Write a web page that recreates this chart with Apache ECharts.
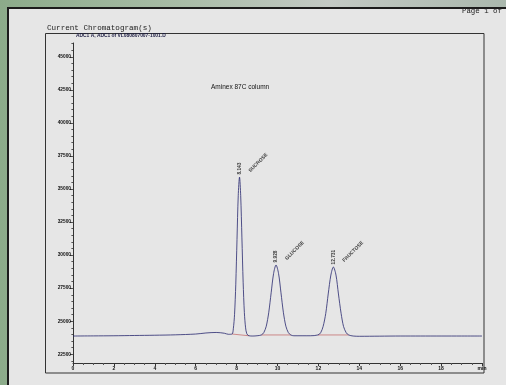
<!DOCTYPE html>
<html>
<head>
<meta charset="utf-8">
<script src="https://cdn.jsdelivr.net/npm/echarts@6/dist/echarts.min.js"></script>
<style>
html,body{margin:0;padding:0;}
body{width:506px;height:385px;overflow:hidden;
background:linear-gradient(90deg,#8cab8a 0%,#a8bca6 35%,#c3c9c4 65%,#aab8ad 100%);}
#c{width:506px;height:385px;}
</style>
</head>
<body>
<div id="c"></div>
<script>
// chromatogram signal: time (min) and detector response
const times = [0, 1, 2, 3, 4, 5, 6, 6.5, 7.0, 7.4, 7.6,
  7.78, 7.84, 7.90, 7.96, 8.02, 8.08, 8.143, 8.20, 8.26, 8.32, 8.38, 8.44, 8.50, 8.60, 8.8, 9.0,
  9.21, 9.33, 9.45, 9.57, 9.69, 9.81, 9.928, 10.05, 10.17, 10.29, 10.41, 10.53, 10.65, 10.8, 11.2, 11.6,
  11.98, 12.11, 12.23, 12.36, 12.48, 12.61, 12.731, 12.86, 12.98, 13.11, 13.23, 13.36, 13.48, 13.7,
  14, 15, 16, 17, 18, 19, 20];
const signal = [23880, 23890, 23900, 23920, 23940, 23970, 24030, 24110, 24150, 24090, 24010,
  24030, 24430, 25520, 27800, 31180, 34490, 35900, 34500, 31300, 27950, 25650, 24500, 24050, 23900, 23880, 23900,
  23960, 24140, 24620, 25640, 27150, 28620, 29250, 28620, 27150, 25640, 24620, 24140, 23960, 23900, 23900, 23900,
  23960, 24130, 24600, 25590, 27060, 28490, 29100, 28490, 27060, 25590, 24600, 24130, 23960, 23880,
  23860, 23870, 23880, 23880, 23880, 23880, 23880];
// integration baselines (start/end of each peak)
const baseStart = [[7.78, 24030], [9.21, 23960], [11.98, 23960]];
const baseEnd = [[8.60, 23900], [10.65, 23960], [13.48, 23960]];
// peaks
const peakNames = ['SUCROSE', 'GLUCOSE', 'FRUCTOSE'];
const peakTimes = [8.143, 9.928, 12.731];
const peakHeights = [35900, 29250, 29100];
const peakRT = ['8.143', '9.928', '12.731'];
// axis ticks
const yTicks = [22500, 25000, 27500, 30000, 32500, 35000, 37500, 40000, 42500, 45000];
const xMin = 0, xMax = 20, xStep = 2;
const yMin = 21840, yMax = 46040;

const yMinor = [];
for (let v = 22000; v <= 46000; v += 500) yMinor.push(v);

const sig = times.map((t, i) => [t, signal[i]]);
const red = [];
baseStart.forEach((s, i) => { red.push(s, baseEnd[i], [baseEnd[i][0], '-']); });

const chart = echarts.init(document.getElementById('c'), null, {renderer: 'canvas'});
const labFont = 'Arial, "Liberation Sans", sans-serif';
chart.setOption({
  animation: false,
  backgroundColor: 'transparent',
  grid: {left: 73, right: 24, top: 43, bottom: 22},
  xAxis: {
    type: 'value', min: xMin, max: xMax, interval: xStep,
    axisLine: {lineStyle: {color: '#333', width: 1}},
    axisTick: {length: 3, lineStyle: {color: '#333'}},
    minorTick: {show: true, splitNumber: 4, length: 2, lineStyle: {color: '#555'}},
    splitLine: {show: false},
    axisLabel: {fontSize: 5, fontWeight: 'bold', color: '#111', margin: 3, fontFamily: labFont,
      formatter: v => v === xMax ? 'min' : String(v)}
  },
  yAxis: [{
    type: 'value', min: yMin, max: yMax,
    axisLine: {show: true, lineStyle: {color: '#333', width: 1}},
    axisTick: {show: true, length: 3, customValues: yTicks, lineStyle: {color: '#333'}},
    splitLine: {show: false},
    axisLabel: {fontSize: 4.8, fontWeight: 'bold', color: '#111', margin: 2, fontFamily: labFont,
      customValues: yTicks, formatter: v => String(v)}
  }, {
    type: 'value', min: yMin, max: yMax, position: 'left',
    axisLine: {show: false},
    axisTick: {show: true, length: 1.6, customValues: yMinor, lineStyle: {color: '#555'}},
    axisLabel: {show: false},
    splitLine: {show: false}
  }],
  graphic: [
    {type: 'rect', z: -100, shape: {x: 8, y: 8, width: 520, height: 400},
      style: {fill: '#e6e6e6', stroke: '#1c1c1c', lineWidth: 2}},
    {type: 'rect', z: -90, shape: {x: 45.5, y: 33.5, width: 438.5, height: 339.5},
      style: {fill: 'none', stroke: '#333', lineWidth: 1}},
    {type: 'text', x: 462, y: 8, style: {text: 'Page 1 of', font: '7.4px "Liberation Mono", monospace', fill: '#222'}},
    {type: 'text', x: 47, y: 24, style: {text: 'Current Chromatogram(s)', font: '7.6px "Liberation Mono", monospace', fill: '#222'}},
    {type: 'text', x: 76, y: 33.5, style: {text: 'ADC1 A, ADC1 of VL080807007-1001.D', font: 'bold 4.9px Arial, "Liberation Sans", sans-serif', fill: '#1a1a40'}},
    {type: 'text', x: 211, y: 83.5, style: {text: 'Aminex 87C column', font: '6.5px Arial, "Liberation Sans", sans-serif', fill: '#111'}}
  ],
  series: [{
    type: 'line', data: sig, showSymbol: false, smooth: 0.3, yAxisIndex: 0,
    lineStyle: {color: '#27276e', width: 0.8}, z: 3
  }, {
    type: 'line', data: red, showSymbol: false, connectNulls: false, yAxisIndex: 0,
    lineStyle: {color: '#c06060', width: 0.7}, z: 2
  }, {
    type: 'scatter', yAxisIndex: 0, symbolSize: 1, itemStyle: {color: 'rgba(0,0,0,0)'},
    data: peakTimes.map((t, i) => ({value: [t, peakHeights[i]], name: peakRT[i]})),
    label: {show: true, position: 'top', distance: 2, rotate: 90, align: 'left', verticalAlign: 'middle',
      formatter: p => p.name, fontSize: 4.8, fontWeight: 'bold', color: '#111', fontFamily: labFont}
  }, {
    type: 'scatter', yAxisIndex: 0, symbolSize: 1, itemStyle: {color: 'rgba(0,0,0,0)'},
    data: peakTimes.map((t, i) => ({value: [t, peakHeights[i]], name: peakNames[i]})),
    label: {show: true, position: 'inside', offset: [11, 3], rotate: 45, align: 'left', verticalAlign: 'middle',
      formatter: p => p.name, fontSize: 5, fontWeight: 'bold', color: '#111', fontFamily: labFont}
  }]
});
</script>
</body>
</html>
